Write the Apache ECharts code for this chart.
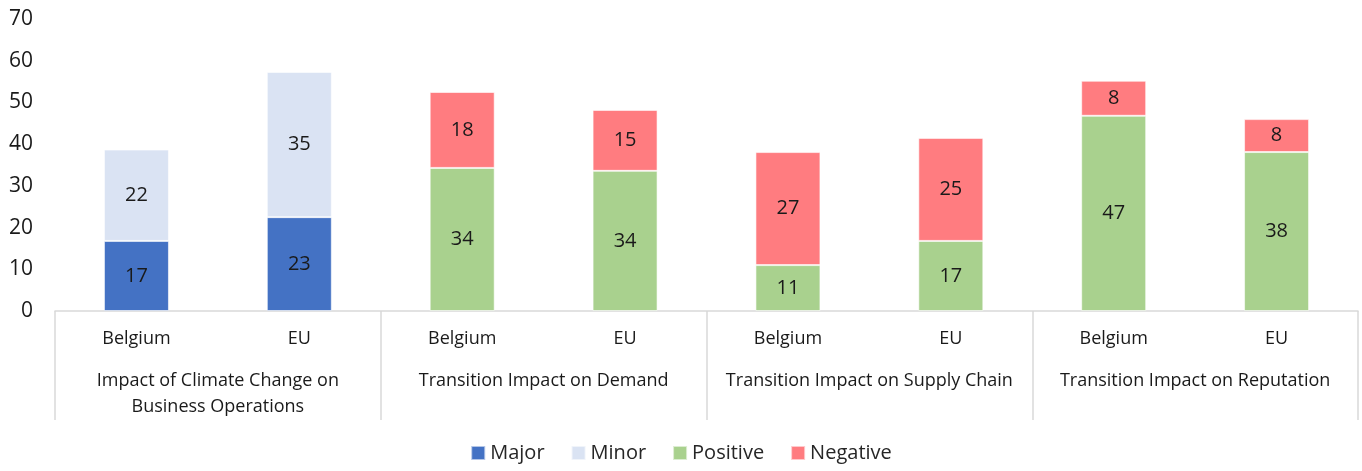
<!DOCTYPE html>
<html><head><meta charset="utf-8">
<script src="https://cdn.jsdelivr.net/npm/echarts@6/dist/echarts.min.js"></script>
<style>html,body{margin:0;padding:0;background:#fff}#c{width:1362px;height:471px}</style>
</head><body><div id="c"></div>
<script>
const categories = ['Belgium','EU','Belgium','EU','Belgium','EU','Belgium','EU'];
const groups = ['Impact of Climate Change on\nBusiness Operations','Transition Impact on Demand','Transition Impact on Supply Chain','Transition Impact on Reputation'];
const major = [16.8, 22.5, null, null, null, null, null, null];
const minor = [21.9, 34.8, null, null, null, null, null, null];
const positive = [null, null, 34.3, 33.6, 11.0, 16.8, 46.8, 38.1];
const negative = [null, null, 18.2, 14.6, 27.1, 24.7, 8.4, 7.9];
const yTicks = {min: 0, max: 70, interval: 10};

const font = '"Open Sans", "Noto Sans", sans-serif';
function ser(name, data, color) {
  return {
    name, type: 'bar', stack: 'a', data, barWidth: 65,
    itemStyle: {color, borderColor: 'rgba(255,255,255,0.6)', borderWidth: 1},
    label: {show: true, position: 'inside', color: '#1a1a1a', fontSize: 20, fontFamily: font,
      formatter: p => p.value == null ? '' : Math.round(p.value)}
  };
}
const chart = echarts.init(document.getElementById('c'));
chart.setOption({
  animation: false,
  textStyle: {fontFamily: font},
  grid: {left: 55, right: 4, top: 19, bottom: 160},
  legend: {bottom: 3, left: 'center', itemWidth: 14, itemHeight: 14, itemGap: 26,
    textStyle: {fontSize: 20, color: '#262626', fontFamily: font}, icon: 'rect',
    data: ['Major','Minor','Positive','Negative']},
  xAxis: [
    {type: 'category', data: categories, position: 'bottom',
     axisLine: {lineStyle: {color: '#D9D9D9', width: 1.5}}, axisTick: {show: false},
     axisLabel: {color: '#1a1a1a', fontSize: 18, margin: 19, interval: 0, fontFamily: font}},
    {type: 'category', data: groups, position: 'bottom',
     axisLine: {show: false},
     axisTick: {show: true, interval: 0, length: 109, lineStyle: {color: '#D9D9D9', width: 1.5}},
     axisLabel: {color: '#1a1a1a', fontSize: 18, margin: 57, lineHeight: 26, interval: 0, fontFamily: font}}
  ],
  yAxis: {type: 'value', min: yTicks.min, max: yTicks.max, interval: yTicks.interval,
    splitLine: {show: false}, axisLine: {show: false}, axisTick: {show: false},
    axisLabel: {color: '#1a1a1a', fontSize: 21, margin: 22, fontFamily: font}},
  series: [
    ser('Major', major, '#4472C4'),
    ser('Minor', minor, '#DAE3F3'),
    ser('Positive', positive, '#A9D18E'),
    ser('Negative', negative, '#FF7C80')
  ]
});
</script></body></html>
